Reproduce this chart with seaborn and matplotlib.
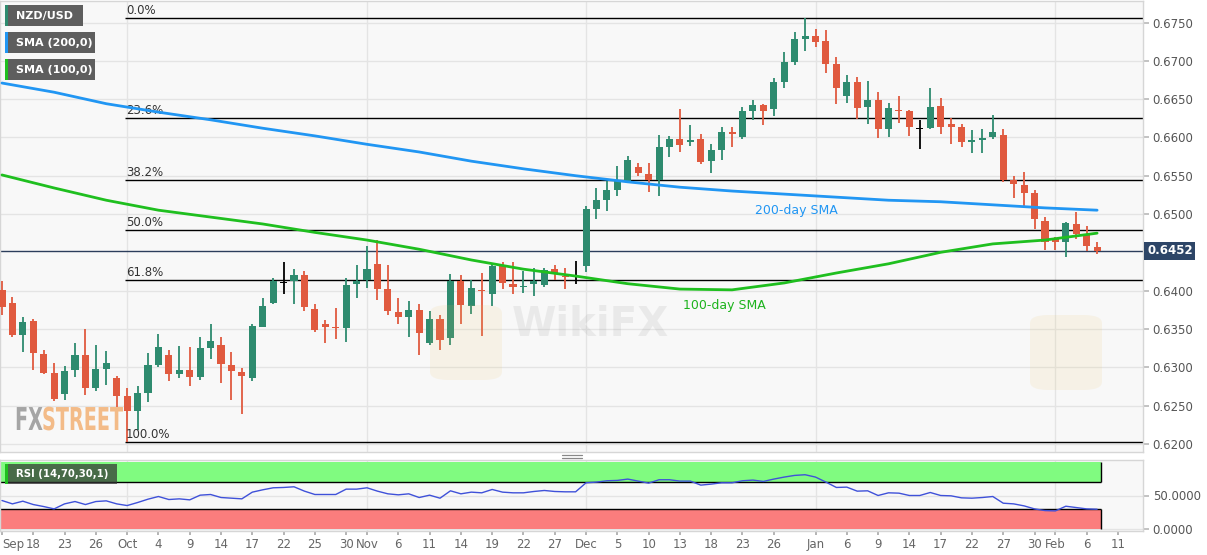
import numpy as np
import pandas as pd
import seaborn as sns
import matplotlib
matplotlib.use("Agg")
import matplotlib.pyplot as plt
import matplotlib.transforms as mtrans
from matplotlib.patches import Rectangle, PathPatch, FancyBboxPatch
from matplotlib.lines import Line2D
from matplotlib.textpath import TextPath
from matplotlib.font_manager import FontProperties

sns.set_theme(style="white")
plt.rcParams['font.family'] = ['DejaVu Sans']

# NZD/USD daily, 13 Sep 2019 - 7 Feb 2020
dates = pd.bdate_range("2019-09-13", "2020-02-07")

opens = [.6401, .6384, .6342, .6360, .6317, .6293, .6265, .6296, .6316, .6273,
         .6298, .6286, .6262, .6243, .6266, .6303, .6316, .6291, .6296, .6287,
         .6325, .6329, .6303, .6294, .6286, .6353, .6384, .6411, .6412, .6421,
         .6376, .6357, .6352, .6351, .6408, .6414, .6435, .6402, .6372, .6365,
         .6375, .6331, .6363, .6338, .6413, .6380, .6401, .6396, .6432, .6409,
         .6405, .6409, .6407, .6428, .6419, .6418, .6432, .6506, .6518, .6531,
         .6543, .6562, .6552, .6545, .6588, .6598, .6594, .6598, .6569, .6584,
         .6607, .6600, .6635, .6642, .6637, .6673, .6698, .6728, .6732, .6726,
         .6696, .6654, .6672, .6640, .6649, .6611, .6636, .6634, .6612, .6612,
         .6641, .6617, .6614, .6594, .6597, .6600, .6603, .6545, .6538, .6527,
         .6491, .6468, .6464, .6487, .6474, .6457]
highs = [.6412, .6392, .6366, .6363, .6323, .6306, .6301, .6332, .6350, .6329,
         .6321, .6288, .6273, .6276, .6318, .6343, .6323, .6328, .6327, .6340,
         .6357, .6339, .6320, .6299, .6357, .6391, .6417, .6438, .6428, .6425,
         .6383, .6362, .6377, .6417, .6434, .6458, .6466, .6433, .6391, .6387,
         .6383, .6374, .6368, .6422, .6420, .6414, .6423, .6436, .6438, .6438,
         .6426, .6430, .6430, .6433, .6430, .6439, .6511, .6534, .6543, .6563,
         .6576, .6567, .6567, .6603, .6602, .6637, .6616, .6604, .6592, .6614,
         .6614, .6640, .6649, .6644, .6677, .6712, .6738, .6756, .6741, .6740,
         .6705, .6681, .6679, .6674, .6659, .6645, .6654, .6636, .6623, .6665,
         .6651, .6625, .6618, .6610, .6611, .6629, .6611, .6550, .6555, .6532,
         .6496, .6470, .6490, .6503, .6484, .6464]
lows = [.6368, .6339, .6320, .6297, .6291, .6256, .6257, .6287, .6264, .6269,
        .6277, .6248, .6203, .6218, .6255, .6300, .6282, .6286, .6275, .6283,
        .6311, .6279, .6257, .6239, .6282, .6352, .6383, .6396, .6383, .6373,
        .6346, .6331, .6337, .6333, .6391, .6404, .6388, .6368, .6357, .6340,
        .6316, .6329, .6323, .6329, .6357, .6370, .6341, .6380, .6402, .6396,
        .6397, .6393, .6405, .6414, .6402, .6409, .6424, .6493, .6504, .6523,
        .6540, .6549, .6529, .6523, .6575, .6581, .6589, .6565, .6554, .6571,
        .6588, .6598, .6623, .6616, .6628, .6665, .6695, .6713, .6718, .6684,
        .6643, .6645, .6624, .6617, .6599, .6601, .6619, .6602, .6585, .6611,
        .6605, .6591, .6587, .6580, .6580, .6598, .6542, .6521, .6510, .6481,
        .6453, .6453, .6444, .6468, .6452, .6448]
closes = [.6379, .6342, .6359, .6318, .6293, .6258, .6295, .6316, .6273, .6298,
          .6306, .6262, .6243, .6266, .6303, .6326, .6291, .6296, .6287, .6325,
          .6334, .6304, .6295, .6288, .6354, .6380, .6412, .6411, .6421, .6378,
          .6349, .6353, .6351, .6407, .6413, .6428, .6402, .6373, .6365, .6375,
          .6345, .6363, .6336, .6413, .6381, .6404, .6399, .6432, .6410, .6405,
          .6406, .6412, .6427, .6422, .6418, .6418, .6506, .6518, .6531, .6543,
          .6571, .6553, .6545, .6587, .6598, .6590, .6597, .6568, .6583, .6607,
          .6604, .6634, .6642, .6635, .6672, .6699, .6728, .6733, .6725, .6696,
          .6665, .6672, .6639, .6649, .6611, .6639, .6634, .6613, .6612, .6640,
          .6614, .6614, .6594, .6596, .6599, .6607, .6545, .6539, .6527, .6493,
          .6464, .6463, .6488, .6474, .6458, .6452]

# moving averages every 5 bars
sma_idx = list(range(0, 106, 5))
sma200 = [.6671, .6659, .6644, .6633, .6623, .6612, .6602, .6591, .6581, .6569, .6559,
          .6550, .6542, .6535, .6530, .6526, .6522, .6518, .6516, .6512, .6508, .6505]
sma100 = [.6551, .6534, .6518, .6505, .6496, .6487, .6476, .6466, .6454, .6440, .6428,
          .6419, .6409, .6402, .6401, .6410, .6423, .6435, .6450, .6461, .6466, .6475]

rsi = [42.5, 37.5, 41.5, 36.5, 33.5, 30, 37.5, 41, 36.5, 41,
       42, 37.5, 35, 39.5, 44.5, 48.5, 44, 45, 43.5, 50.5,
       51.5, 47, 46, 45, 55, 58.5, 61.5, 62, 63, 56.5,
       51.5, 51.5, 51.5, 59.5, 59.5, 61.5, 56.5, 52.5, 51, 52.5,
       47, 50.5, 46, 57, 52.5, 55, 54, 59, 55, 54,
       54, 56, 57.5, 56, 55.5, 55.5, 69, 70, 72, 72.5,
       74.5, 71.5, 68.5, 73.5, 73.5, 71.5, 71.5, 65.5, 67, 69,
       69, 72, 73, 71, 74.5, 77.5, 80, 81, 77.5, 70,
       62, 62.5, 56.5, 57, 50, 54, 53.5, 50, 50, 54.5,
       50, 49.5, 46.5, 46, 47, 48.5, 38.5, 37.5, 34.5, 30,
       27.5, 27, 34, 32, 30, 29.5]

fib_ratios = [0.0, 0.236, 0.382, 0.5, 0.618, 1.0]
fib_names = ["0.0%", "23.6%", "38.2%", "50.0%", "61.8%", "100.0%"]

tick_dates = ["2019-09-13", "2019-09-18", "2019-09-23", "2019-09-26", "2019-10-01",
              "2019-10-04", "2019-10-09", "2019-10-14", "2019-10-17", "2019-10-22",
              "2019-10-25", "2019-10-30", "2019-11-01", "2019-11-06", "2019-11-11",
              "2019-11-14", "2019-11-19", "2019-11-22", "2019-11-27", "2019-12-02",
              "2019-12-05", "2019-12-10", "2019-12-13", "2019-12-18", "2019-12-23",
              "2019-12-26", "2020-01-01", "2020-01-06", "2020-01-09", "2020-01-14",
              "2020-01-17", "2020-01-22", "2020-01-27", "2020-01-30", "2020-02-03",
              "2020-02-06", "2020-02-11"]
tick_labels = ["Sep", "18", "23", "26", "Oct", "4", "9", "14", "17", "22", "25", "30",
               "Nov", "6", "11", "14", "19", "22", "27", "Dec", "5", "10", "13", "18",
               "23", "26", "Jan", "6", "9", "14", "17", "22", "27", "30", "Feb", "6", "11"]
month_starts = ["2019-10-01", "2019-11-01", "2019-12-02", "2020-01-01", "2020-02-03"]

price_ticks = [0.6200, 0.6250, 0.6300, 0.6350, 0.6400, 0.6500, 0.6550,
               0.6600, 0.6650, 0.6700, 0.6750]

GREEN, RED = "#2e8b6f", "#e05a3f"
BLUE, LIME = "#2196f3", "#1fbf1f"

W, H = 1207, 555
fig = plt.figure(figsize=(W / 100, H / 100), dpi=100)


def fbox(x0, y0, x1, y1):
    return [x0 / W, 1 - y1 / H, (x1 - x0) / W, (y1 - y0) / H]


ax = fig.add_axes(fbox(0, 1, 1143, 452))
rx = fig.add_axes(fbox(0, 460, 1143, 531), sharex=ax)

axis_days = pd.bdate_range("2019-09-13", "2020-02-14")
tick_pos = axis_days.get_indexer(pd.to_datetime(tick_dates))
month_pos = axis_days.get_indexer(pd.to_datetime(month_starts))
xlo, xhi = -0.19, 109.4

for a in (ax, rx):
    a.set_facecolor("#f8f8f8")
    for s in a.spines.values():
        s.set_color("#d6d6d6")
        s.set_linewidth(1)
    for m in month_pos:
        a.axvline(m, color="#e4e4e4", lw=1, zorder=0)

# candles
x = np.arange(len(opens))
o, h, l, c = (np.array(v) for v in (opens, highs, lows, closes))
col = np.where(c > o, GREEN, np.where(c < o, RED, "black"))
ax.vlines(x, l, h, colors=col, lw=1.3, zorder=3)
body = np.maximum(np.abs(c - o), 0.00012)
bottom = np.minimum(o, c) - np.where(c == o, 0.00006, 0)
ax.bar(x, body, bottom=bottom, width=0.68, color=col, lw=0, zorder=4)

sns.lineplot(x=sma_idx, y=sma200, ax=ax, color=BLUE, lw=2, errorbar=None, zorder=5)
sns.lineplot(x=sma_idx, y=sma100, ax=ax, color=LIME, lw=2, errorbar=None, zorder=5)

# fibonacci retracement from the October low to the December high
fib_hi, fib_lo = max(highs), min(lows)
lo_i = int(np.argmin(lows))
for r, name in zip(fib_ratios, fib_names):
    lvl = fib_hi - r * (fib_hi - fib_lo)
    ax.hlines(lvl, lo_i - 0.2, xhi, color="black", lw=1, zorder=2)
    ax.text(lo_i - 0.1, lvl + 0.00012, name, fontsize=8.5, color="#333333", va="bottom")

ax.axhline(closes[-1], color="#2c3e5c", lw=1, zorder=2)

ax.text(72.2, 0.6504, "200-day SMA", color=BLUE, fontsize=9, va="center")
ax.text(65.3, 0.6380, "100-day SMA", color="#1db31d", fontsize=9, va="center")

ax.set_xlim(xlo, xhi)
ax.set_ylim(0.61893, 0.67781)
ax.yaxis.tick_right()
ax.set_yticks(price_ticks, labels=[f"{t:.4f}" for t in price_ticks])
ax.grid(True, axis="y", color="#e4e4e4", lw=1)
ax.set_axisbelow(True)
ax.tick_params(axis="y", right=True, length=4, color="#bbbbbb", labelcolor="#555555",
               labelsize=8.5, pad=3)
ax.tick_params(axis="x", bottom=False, labelbottom=False)

blend = mtrans.blended_transform_factory(ax.transAxes, ax.transData)
ax.text(1.0035, closes[-1], f"{closes[-1]:.4f}", transform=blend, color="white",
        fontsize=8.5, weight="bold", va="center", ha="left", clip_on=False, zorder=20,
        bbox=dict(boxstyle="square,pad=0.22", fc="#2d4567", ec="none"))

# RSI panel
band_end = len(rsi) - 0.6
rx.fill_between([xlo, band_end], 70, 100, color="#80fb80", lw=0, zorder=1)
rx.fill_between([xlo, band_end], 0, 30, color="#fb7d7d", lw=0, zorder=1)
rx.hlines([70, 30], xlo, band_end, color="black", lw=1, zorder=2)
rx.vlines([band_end, band_end], [70, 0], [100, 30], color="black", lw=1, zorder=2)
sns.lineplot(x=x, y=rsi, ax=rx, color="#3f51d9", lw=1, errorbar=None, zorder=3)
rx.set_ylim(-3, 103)
rx.yaxis.tick_right()
rx.set_yticks([0, 50], labels=["0.0000", "50.0000"])
rx.grid(True, axis="y", color="#e4e4e4", lw=1)
rx.tick_params(axis="y", right=True, length=4, color="#bbbbbb", labelcolor="#555555",
               labelsize=8.5, pad=3)
rx.set_xticks(tick_pos, labels=tick_labels)
rx.tick_params(axis="x", bottom=True, length=3, color="#aaaaaa", labelcolor="#666666",
               labelsize=8.5, pad=2)
rx.get_xticklabels()[0].set_horizontalalignment("left")
rx.set_xlim(xlo, xhi)
rx.set_xlabel("")
rx.set_ylabel("")
ax.set_ylabel("")


def tag(x0, y0, x1, y1, text, stripe, face="#5e5e5e", alpha=1.0, size=8):
    fig.add_artist(Rectangle((x0 / W, 1 - y1 / H), (x1 - x0) / W, (y1 - y0) / H,
                             transform=fig.transFigure, fc=face, alpha=alpha, lw=0, zorder=10))
    fig.add_artist(Rectangle((x0 / W, 1 - y1 / H), 2.5 / W, (y1 - y0) / H,
                             transform=fig.transFigure, fc=stripe, lw=0, zorder=11))
    fig.text((x0 + 11) / W, 1 - (y0 + y1) / 2 / H, text, color="white", fontsize=size,
             weight="bold", va="center", zorder=12)


tag(5, 5, 83, 26, "NZD/USD", GREEN)
tag(5, 32, 95, 53, "SMA (200,0)", BLUE)
tag(5, 59, 95, 80, "SMA (100,0)", LIME)
tag(5, 464, 117, 484, "RSI (14,70,30,1)", LIME, face="#333333", alpha=0.72, size=7.3)

# panel splitter handle
for yy in (455, 457.5):
    fig.add_artist(Line2D([562 / W, 582 / W], [1 - yy / H] * 2, color="#888888", lw=0.9,
                          transform=fig.transFigure))

# watermarks
fp = FontProperties(family="DejaVu Sans", weight="bold")
for s, x0, colr in (("FX", 15, "#9c9c9c"), ("STREET", 42, "#f3b57c")):
    tp = TextPath((0, 0), s, size=31.5, prop=fp)
    fig.add_artist(PathPatch(tp, transform=mtrans.Affine2D().scale(0.61, 1).translate(x0, H - 430),
                             fc=colr, ec="none", alpha=0.9, zorder=9))
for lx, ly in ((430, 305), (1030, 315)):
    fig.add_artist(FancyBboxPatch((lx / W, 1 - (ly + 75) / H), 72 / W, 75 / H,
                                  boxstyle="round,pad=0,rounding_size=0.015",
                                  transform=fig.transFigure, fc="#e9c46a", ec="none",
                                  alpha=0.12, zorder=8))
fig.text(512 / W, 1 - 325 / H, "WikiFX", fontsize=29, weight="bold", color="#8a8a8a",
         alpha=0.13, va="center", zorder=8)

fig.savefig("out.png", dpi=100)
